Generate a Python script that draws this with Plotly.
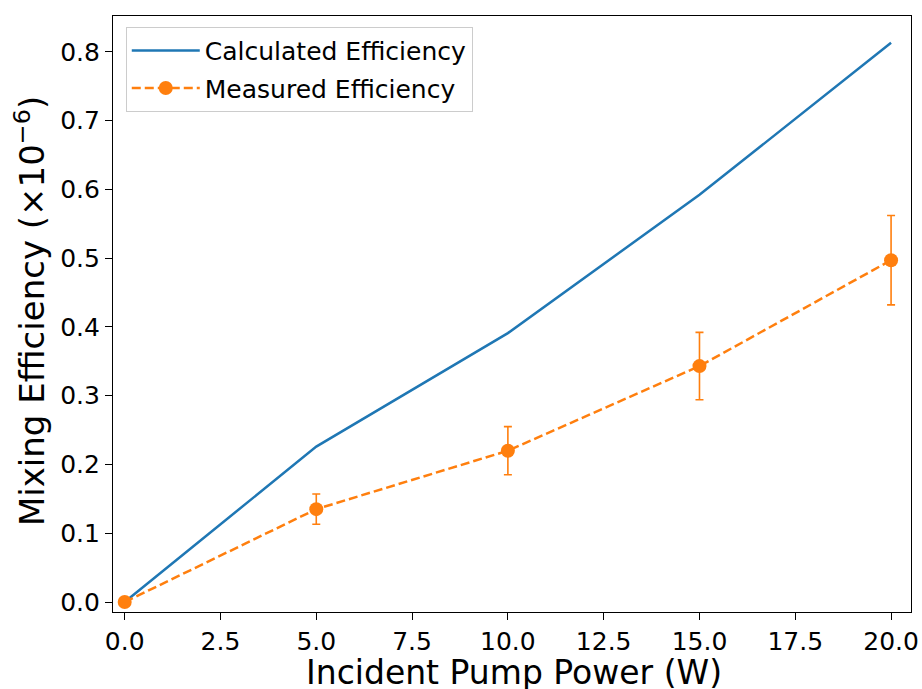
import plotly.graph_objects as go

power = [0, 5, 10, 15, 20]
calculated = [0.0, 0.226, 0.391, 0.592, 0.813]
measured = [0.0, 0.135, 0.220, 0.343, 0.497]
measured_err = [0.0, 0.022, 0.035, 0.049, 0.065]

x_ticks = [0, 2.5, 5, 7.5, 10, 12.5, 15, 17.5, 20]
x_ticktext = ["0.0", "2.5", "5.0", "7.5", "10.0", "12.5", "15.0", "17.5", "20.0"]
y_ticks = [0.0, 0.1, 0.2, 0.3, 0.4, 0.5, 0.6, 0.7, 0.8]
y_ticktext = ["0.0", "0.1", "0.2", "0.3", "0.4", "0.5", "0.6", "0.7", "0.8"]

x_title = "Incident Pump Power (W)"
y_title = "Mixing Efficiency (×10<sup>−6</sup>)"

BLUE = "#1f77b4"
ORANGE = "#ff7f0e"
FONT = "DejaVu Sans"

fig = go.Figure()
fig.add_trace(go.Scatter(
    x=power, y=calculated, mode="lines", name="Calculated Efficiency",
    line=dict(color=BLUE, width=2.5), legendgroup="a",
))
fig.add_trace(go.Scatter(
    x=power, y=measured, mode="lines+markers", name="Measured Efficiency",
    line=dict(color=ORANGE, width=2.5, dash="9px,4px"),
    marker=dict(color=ORANGE, size=14),
    error_y=dict(type="data", array=measured_err, visible=True,
                 color=ORANGE, thickness=1.6, width=4),
    legendgroup="b",
))

axis_common = dict(
    showgrid=False, zeroline=False, automargin=False,
    showline=True, linecolor="black", linewidth=1.2, mirror=True,
    ticks="outside", ticklen=7, tickwidth=1.2, tickcolor="black",
    tickfont=dict(family=FONT, size=25, color="black"),
)

fig.update_layout(
    width=922, height=689,
    margin=dict(l=113, r=11, t=16, b=77),
    paper_bgcolor="white", plot_bgcolor="white",
    font=dict(family=FONT, color="black", size=25),
    showlegend=True,
    legend=dict(
        x=0.016, y=0.982, xanchor="left", yanchor="top",
        bgcolor="white", bordercolor="#cccccc", borderwidth=1,
        font=dict(family=FONT, size=25, color="black"),
        itemwidth=68, tracegroupgap=2,
    ),
    xaxis=dict(range=[-0.305, 20.52], tickvals=x_ticks, ticktext=x_ticktext, **axis_common),
    yaxis=dict(range=[-0.0145, 0.852], tickvals=y_ticks, ticktext=y_ticktext, **axis_common),
    annotations=[
        dict(text=x_title, xref="paper", yref="paper", x=0.5023, y=-0.102,
             xanchor="center", yanchor="middle", showarrow=False,
             font=dict(family=FONT, size=33, color="black")),
        dict(text=y_title, xref="paper", yref="paper", x=-0.104, y=0.505,
             xanchor="center", yanchor="middle", showarrow=False, textangle=-90,
             font=dict(family=FONT, size=34, color="black")),
    ],
)

fig.write_html(
    "out.html",
    config={"displayModeBar": False},
    post_script="document.body.style.margin='0';document.body.style.overflow='hidden';",
)
